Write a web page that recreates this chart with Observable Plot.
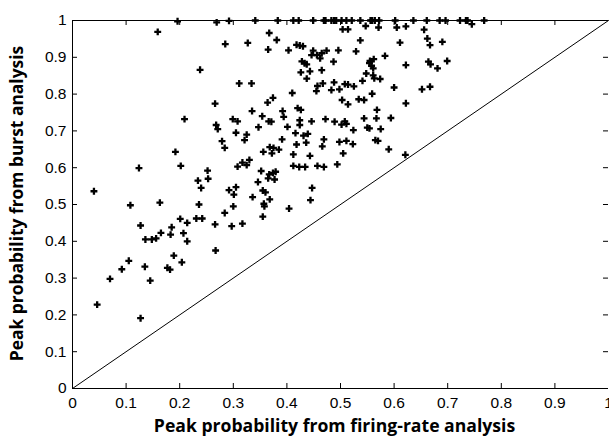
<!DOCTYPE html>
<html><head><meta charset="utf-8">
<script src="https://cdn.jsdelivr.net/npm/d3@7"></script>
<script src="https://cdn.jsdelivr.net/npm/@observablehq/plot@0.6"></script>
<style>html,body{margin:0;padding:0;background:#fff} #chart svg{display:block}</style>
</head><body><div id="chart"></div>
<script>
// Peak probability from firing-rate analysis (x) and from burst analysis (y)
const firingRate = [
0.196,0.269,0.292,0.341,0.383,0.412,0.422,0.449,0.469,0.472,0.483,0.488,0.492,0.502,0.511,0.521,0.537,0.556,0.559,0.564,0.572,0.602,0.636,0.661,0.685,0.696,0.723,0.734,0.737,0.768,
0.159,0.547,0.571,0.504,0.514,0.745,0.605,0.622,0.656,0.367,0.381,0.537,0.662,0.285,0.327,0.418,0.424,0.430,0.667,0.690,
0.611,0.365,0.403,0.449,0.446,0.456,0.465,0.474,0.462,0.496,0.529,0.583,0.487,0.428,0.433,0.437,0.555,0.554,0.558,0.561,
0.562,0.622,0.664,0.668,0.699,0.681,0.238,0.426,0.443,0.465,0.548,0.561,0.563,0.437,0.574,0.488,0.541,0.467,0.311,0.334,
0.457,0.455,0.410,0.508,0.514,0.525,0.483,0.498,0.559,0.600,0.652,0.667,0.374,0.364,0.266,0.503,0.514,0.534,0.544,0.622,
0.420,0.426,0.392,0.335,0.568,0.354,0.394,0.209,0.299,0.308,0.366,0.371,0.472,0.489,0.424,0.446,0.508,0.511,0.502,0.544,
0.567,0.594,0.268,0.271,0.347,0.424,0.401,0.575,0.550,0.554,0.524,0.305,0.325,0.416,0.431,0.439,0.321,0.391,0.279,0.469,
0.436,0.418,0.498,0.511,0.523,0.565,0.570,0.284,0.356,0.368,0.375,0.372,0.385,0.466,0.590,0.192,0.505,0.412,0.443,0.621,
0.330,0.317,0.325,0.308,0.202,0.124,0.412,0.423,0.434,0.457,0.469,0.494,0.252,0.234,0.253,0.240,0.352,0.346,0.367,0.374,
0.379,0.365,0.377,0.305,0.292,0.301,0.355,0.360,0.336,0.368,0.357,0.358,0.236,0.300,0.284,0.355,0.447,0.444,0.404,0.040,
0.108,0.163,0.127,0.201,0.231,0.242,0.214,0.266,0.297,0.317,0.185,0.183,0.207,0.214,0.165,0.136,0.148,0.156,0.267,0.189,
0.204,0.105,0.092,0.135,0.177,0.182,0.070,0.145,0.046,0.127
];
const burstProb = [
0.998,0.995,0.999,1.000,1.000,1.000,1.000,1.000,1.000,1.000,1.000,1.000,1.000,1.000,1.000,1.000,1.000,1.000,1.000,1.000,1.000,1.000,1.000,1.000,1.000,1.000,1.000,1.000,1.000,1.000,
0.969,0.985,0.981,0.976,0.976,0.990,0.981,0.984,0.975,0.966,0.947,0.946,0.951,0.936,0.939,0.934,0.932,0.930,0.933,0.942,
0.940,0.921,0.919,0.918,0.906,0.906,0.911,0.918,0.897,0.919,0.916,0.904,0.888,0.889,0.884,0.881,0.890,0.884,0.877,0.870,
0.895,0.879,0.888,0.881,0.890,0.870,0.866,0.859,0.862,0.865,0.856,0.851,0.843,0.842,0.841,0.832,0.836,0.829,0.829,0.829,
0.822,0.808,0.803,0.827,0.826,0.821,0.811,0.813,0.801,0.818,0.813,0.820,0.790,0.777,0.774,0.784,0.772,0.786,0.784,0.775,
0.762,0.757,0.754,0.754,0.757,0.740,0.738,0.732,0.732,0.726,0.726,0.725,0.732,0.725,0.729,0.726,0.726,0.719,0.717,0.734,
0.734,0.735,0.716,0.705,0.710,0.716,0.711,0.705,0.709,0.707,0.702,0.695,0.690,0.694,0.687,0.692,0.675,0.677,0.672,0.677,
0.668,0.663,0.670,0.673,0.664,0.675,0.673,0.654,0.643,0.656,0.654,0.639,0.649,0.658,0.650,0.643,0.639,0.636,0.632,0.635,
0.621,0.614,0.607,0.603,0.605,0.599,0.605,0.602,0.602,0.605,0.602,0.609,0.592,0.565,0.570,0.545,0.591,0.561,0.582,0.586,
0.589,0.571,0.568,0.547,0.539,0.527,0.538,0.533,0.520,0.514,0.502,0.495,0.500,0.495,0.477,0.467,0.545,0.512,0.489,0.536,
0.498,0.505,0.443,0.461,0.462,0.462,0.450,0.446,0.441,0.448,0.438,0.418,0.422,0.400,0.423,0.405,0.405,0.408,0.375,0.361,
0.343,0.347,0.324,0.331,0.328,0.323,0.298,0.293,0.228,0.191
];
const xTicks = [0,0.1,0.2,0.3,0.4,0.5,0.6,0.7,0.8,0.9,1];
const xTickLabels = ["0","0.1","0.2","0.3","0.4","0.5","0.6","0.7","0.8","0.9","1"];
const yTicks = [0,0.1,0.2,0.3,0.4,0.5,0.6,0.7,0.8,0.9,1];
const yTickLabels = ["0","0.1","0.2","0.3","0.4","0.5","0.6","0.7","0.8","0.9","1"];
const xLabel = "Peak probability from firing-rate analysis";
const yLabel = "Peak probability from burst analysis";

const W = 609, H = 436, mL = 72, mR = 1, mT = 20, mB = 48;
const innerW = W - mL - mR, innerH = H - mT - mB, tickLen = 5;
const points = firingRate.map((x, i) => ({x, y: burstProb[i]}));
const xLab = new Map(xTicks.map((t, i) => [t, xTickLabels[i]]));
const yLab = new Map(yTicks.map((t, i) => [t, yTickLabels[i]]));
const innerX = xTicks.slice(1, -1), innerY = yTicks.slice(1, -1);
const identity = [0, 1];
const labelFont = "'Open Sans', Lato, sans-serif";

const chart = Plot.plot({
  width: W, height: H,
  marginLeft: mL, marginRight: mR, marginTop: mT, marginBottom: mB,
  x: {domain: [0, 1]},
  y: {domain: [0, 1]},
  style: {fontFamily: "'Liberation Sans', Arial, sans-serif", fontSize: "15px", background: "#fff", color: "#000", overflow: "visible"},
  marks: [
    Plot.axisX({ticks: xTicks, tickSize: 0, tickPadding: 8, tickFormat: d => xLab.get(d), fontSize: 15.5, label: null}),
    Plot.axisY({ticks: yTicks, tickSize: 0, tickPadding: 6, tickFormat: d => yLab.get(d), fontSize: 15.5, label: null}),
    Plot.tickX(innerX, {x: d => d, insetTop: innerH - tickLen, stroke: "#000"}),
    Plot.tickX(innerX, {x: d => d, insetBottom: innerH - tickLen, stroke: "#000"}),
    Plot.tickY(innerY, {y: d => d, insetRight: innerW - tickLen, stroke: "#000"}),
    Plot.tickY(innerY, {y: d => d, insetLeft: innerW - tickLen, stroke: "#000"}),
    Plot.ruleX([0], {stroke: "#000"}),
    Plot.ruleY([0, 1], {stroke: "#000"}),
    Plot.line(identity, {x: d => d, y: d => d, stroke: "#000", strokeWidth: 1}),
    Plot.dot(points, {x: "x", y: "y", symbol: "cross", r: 2.9, fill: "#000", stroke: "none"}),
    Plot.text([xLabel], {frameAnchor: "bottom", dy: 38, dx: -6, textAnchor: "middle", lineAnchor: "middle", fontFamily: labelFont, fontWeight: "bold", fontSize: 17.6, fill: "#000"}),
    Plot.text([yLabel], {frameAnchor: "left", dx: -55, dy: -1, rotate: -90, textAnchor: "middle", lineAnchor: "middle", fontFamily: labelFont, fontWeight: "bold", fontSize: 17.4, fill: "#000"})
  ]
});
document.getElementById("chart").appendChild(chart);
</script>
</body></html>
